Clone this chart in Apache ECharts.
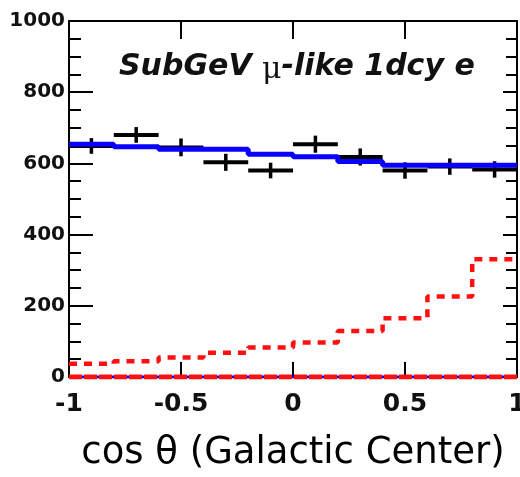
<!DOCTYPE html>
<html>
<head>
<meta charset="utf-8">
<script src="https://cdn.jsdelivr.net/npm/echarts@6/dist/echarts.min.js"></script>
<style>html,body{margin:0;padding:0;background:#fff;}#c{width:520px;height:477px;}</style>
</head>
<body>
<div id="c"></div>
<script>
// Bin edges (cos theta), 10 bins of width 0.2
var binEdges = [-1, -0.8, -0.6, -0.4, -0.2, 0, 0.2, 0.4, 0.6, 0.8, 1];
var binCenters = [-0.9, -0.7, -0.5, -0.3, -0.1, 0.1, 0.3, 0.5, 0.7, 0.9];
// Data points (black crosses) and their errors
var dataValues = [649, 680, 645, 603, 580, 654, 618, 580, 591, 583];
var dataErrors = [22, 22, 25, 24, 22, 24, 24, 23, 23, 23];
// MC expectation (blue solid histogram)
var mcValues = [654, 647, 640, 640, 626, 619, 605, 595, 595, 595];
// Red dotted histogram
var redValues = [37, 44, 55, 68, 83, 97, 129, 165, 226, 331];
// Zero-level histograms
var zeroValues = [0, 0, 0, 0, 0, 0, 0, 0, 0, 0];
var yTicks = [0, 200, 400, 600, 800, 1000];
var xTicks = [-1, -0.5, 0, 0.5, 1];

function stepData(vals) {
  var d = [];
  for (var i = 0; i < vals.length; i++) d.push([binEdges[i], vals[i]]);
  d.push([binEdges[binEdges.length - 1], vals[vals.length - 1]]);
  return d;
}
var crossData = binCenters.map(function (c, i) { return [c, dataValues[i], dataErrors[i]]; });
var halfWidth = (binEdges[1] - binEdges[0]) / 2;

var chart = echarts.init(document.getElementById('c'));
var labelFont = 'DejaVu Sans';
var plain = function (v) { return String(v); };
chart.setOption({
  animation: false,
  backgroundColor: '#fff',
  title: {
    left: 114, top: 45,
    text: '{a|SubGeV }{m|μ}{a|-like 1dcy e}',
    textStyle: {
      rich: {
        a: { fontFamily: labelFont, fontWeight: 'bold', fontStyle: 'italic', fontSize: 30, color: '#111' },
        m: { fontFamily: 'DejaVu Serif', fontWeight: 'normal', fontStyle: 'normal', fontSize: 30, color: '#111', padding: [5, 0, 0, 0] }
      }
    }
  },
  grid: { left: 69, right: 3, top: 21, bottom: 100, containLabel: false, outerBoundsMode: 'none' },
  xAxis: [{
    type: 'value', min: xTicks[0], max: xTicks[xTicks.length - 1], interval: 0.5,
    position: 'bottom',
    axisLine: { show: true, onZero: false, lineStyle: { color: '#000', width: 2 } },
    axisTick: { show: true, inside: true, length: 15, lineStyle: { color: '#000', width: 2 } },
    axisLabel: { fontFamily: labelFont, fontWeight: 'bold', fontSize: 25, color: '#111', margin: 15, formatter: plain },
    splitLine: { show: false },
    name: 'cos θ (Galactic Center)', nameLocation: 'middle', nameGap: 58,
    nameTextStyle: { fontFamily: 'DejaVu Sans', fontSize: 37, color: '#000' }
  }, {
    type: 'value', min: xTicks[0], max: xTicks[xTicks.length - 1], interval: 0.5,
    position: 'top',
    axisLine: { show: true, onZero: false, lineStyle: { color: '#000', width: 2 } },
    axisTick: { show: true, inside: true, length: 18, lineStyle: { color: '#000', width: 2 } },
    axisLabel: { show: false }, splitLine: { show: false }
  }],
  yAxis: [{
    type: 'value', min: yTicks[0], max: yTicks[yTicks.length - 1], interval: 200,
    position: 'left',
    axisLine: { show: true, onZero: false, lineStyle: { color: '#000', width: 2 } },
    axisTick: { show: true, inside: true, length: 24, lineStyle: { color: '#000', width: 2 } },
    minorTick: { show: true, splitNumber: 4, length: 12, lineStyle: { color: '#000', width: 2 } },
    axisLabel: { fontFamily: labelFont, fontWeight: 'bold', fontSize: 20, color: '#111', margin: 4, formatter: plain },
    splitLine: { show: false }
  }, {
    type: 'value', min: yTicks[0], max: yTicks[yTicks.length - 1], interval: 200,
    position: 'right',
    axisLine: { show: true, onZero: false, lineStyle: { color: '#000', width: 2 } },
    axisTick: { show: true, inside: true, length: 14, lineStyle: { color: '#000', width: 2 } },
    minorTick: { show: true, splitNumber: 4, length: 11, lineStyle: { color: '#000', width: 2 } },
    axisLabel: { show: false }, splitLine: { show: false }
  }],
  series: [{
    type: 'custom', name: 'data', xAxisIndex: 0, yAxisIndex: 0, z: 3,
    data: crossData,
    renderItem: function (params, api) {
      var x = api.value(0), y = api.value(1), e = api.value(2);
      var l = api.coord([x - halfWidth, y]);
      var r = api.coord([x + halfWidth, y]);
      var t = api.coord([x, y + e]);
      var b = api.coord([x, y - e]);
      return { type: 'group', children: [
        { type: 'line', shape: { x1: l[0], y1: l[1], x2: r[0], y2: r[1] }, style: { stroke: '#000', lineWidth: 4 } },
        { type: 'line', shape: { x1: t[0], y1: t[1], x2: b[0], y2: b[1] }, style: { stroke: '#000', lineWidth: 3.5 } }
      ] };
    }
  }, {
    type: 'line', name: 'mc', step: 'end', z: 4, symbol: 'none',
    data: stepData(mcValues),
    lineStyle: { color: '#0a00ff', width: 5 }
  }, {
    type: 'line', name: 'red', step: 'end', z: 4, symbol: 'none',
    data: stepData(redValues),
    lineStyle: { color: '#ff1010', width: 4.5, type: [8, 7] }
  }, {
    type: 'line', name: 'zeroBlue', step: 'end', z: 5, symbol: 'none',
    data: stepData(zeroValues),
    lineStyle: { color: '#0a00ff', width: 3 }
  }, {
    type: 'line', name: 'zeroRed', step: 'end', z: 6, symbol: 'none',
    data: stepData(zeroValues),
    lineStyle: { color: '#ff1010', width: 5, type: [13, 2] }
  }]
});
</script>
</body>
</html>
